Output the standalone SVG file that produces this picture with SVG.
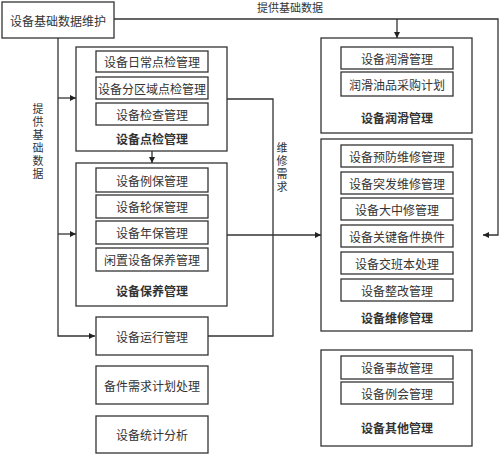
<svg xmlns="http://www.w3.org/2000/svg" width="500" height="455" viewBox="0 0 500 455">
<style>
.b{fill:#fff;stroke:#333;stroke-width:1.3}
.t{font-family:"Noto Sans CJK SC","Liberation Sans",sans-serif;font-size:12px;fill:#333;text-anchor:middle;dominant-baseline:central}
.l{font-weight:bold}
.c{fill:none;stroke:#333;stroke-width:1.3}
.v{font-family:"Noto Sans CJK SC","Liberation Sans",sans-serif;font-size:11px;fill:#333}
.vt{writing-mode:vertical-rl;letter-spacing:2px}
</style>
<defs>
<marker id="a" markerWidth="6" markerHeight="6" refX="6" refY="3" orient="auto" markerUnits="userSpaceOnUse">
<path d="M0,0 L6,3 L0,6 Z" fill="#222"/>
</marker>
</defs>
<g id="connectors">
<path class="c" d="M114,19 H498 V235 H483" marker-end="url(#a)"/>
<path class="c" d="M397,19 V38" marker-end="url(#a)"/>
<path class="c" d="M58,38 V336 H95" marker-end="url(#a)"/>
<path class="c" d="M58,98 H76" marker-end="url(#a)"/>
<path class="c" d="M58,234 H76" marker-end="url(#a)"/>
<path class="c" d="M152,151 V163" marker-end="url(#a)"/>
<path class="c" d="M227,99 H273 V336 H208"/>
<path class="c" d="M227,235 H321" marker-end="url(#a)"/>
<text class="v" x="290" y="12" text-anchor="middle">提供基础数据</text>
<text class="v vt" x="38" y="103">提供基础数据</text>
<text class="v vt" x="282" y="142">维修需求</text>
</g>
<g id="jichu"><rect class="b" x="2" y="2" width="112" height="36"/><text class="t" x="58" y="20">设备基础数据维护</text></g>
<g id="dianjian">
<rect class="b" x="76" y="47" width="151" height="104"/>
<rect class="b" x="96" y="51" width="112" height="21"/><text class="t" x="152" y="61.5">设备日常点检管理</text>
<rect class="b" x="96" y="77" width="112" height="22"/><text class="t" x="152" y="88">设备分区域点检管理</text>
<rect class="b" x="96" y="103" width="112" height="22"/><text class="t" x="152" y="114">设备检查管理</text>
<text class="t l" x="152" y="138">设备点检管理</text>
</g>
<g id="baoyang">
<rect class="b" x="76" y="163" width="151" height="143"/>
<rect class="b" x="96" y="168" width="112" height="24"/><text class="t" x="152" y="180">设备例保管理</text>
<rect class="b" x="96" y="195" width="112" height="23"/><text class="t" x="152" y="206.5">设备轮保管理</text>
<rect class="b" x="96" y="221" width="112" height="23"/><text class="t" x="152" y="232.5">设备年保管理</text>
<rect class="b" x="96" y="248" width="112" height="23"/><text class="t" x="152" y="259.5">闲置设备保养管理</text>
<text class="t l" x="152" y="290">设备保养管理</text>
</g>
<g id="yunxing"><rect class="b" x="96" y="317" width="112" height="38"/><text class="t" x="152" y="336">设备运行管理</text></g>
<g id="beijian"><rect class="b" x="96" y="366" width="112" height="38"/><text class="t" x="152" y="385">备件需求计划处理</text></g>
<g id="tongji"><rect class="b" x="96" y="416" width="112" height="37"/><text class="t" x="152" y="434.5">设备统计分析</text></g>
<g id="runhua">
<rect class="b" x="321" y="38" width="151" height="95"/>
<rect class="b" x="341" y="47" width="112" height="22"/><text class="t" x="397" y="58">设备润滑管理</text>
<rect class="b" x="341" y="72" width="112" height="24"/><text class="t" x="397" y="84">润滑油品采购计划</text>
<text class="t l" x="397" y="117">设备润滑管理</text>
</g>
<g id="weixiu">
<rect class="b" x="321" y="139" width="151" height="192"/>
<rect class="b" x="341" y="145" width="112" height="22"/><text class="t" x="397" y="156">设备预防维修管理</text>
<rect class="b" x="341" y="172" width="112" height="22"/><text class="t" x="397" y="183">设备突发维修管理</text>
<rect class="b" x="341" y="198" width="112" height="22"/><text class="t" x="397" y="209">设备大中修管理</text>
<rect class="b" x="341" y="225" width="112" height="22"/><text class="t" x="397" y="236">设备关键备件换件</text>
<rect class="b" x="341" y="252" width="112" height="22"/><text class="t" x="397" y="263">设备交班本处理</text>
<rect class="b" x="341" y="279" width="112" height="22"/><text class="t" x="397" y="290">设备整改管理</text>
<text class="t l" x="397" y="317">设备维修管理</text>
</g>
<g id="qita">
<rect class="b" x="321" y="350" width="151" height="96"/>
<rect class="b" x="341" y="356" width="112" height="23"/><text class="t" x="397" y="367.5">设备事故管理</text>
<rect class="b" x="341" y="382" width="112" height="22"/><text class="t" x="397" y="393">设备例会管理</text>
<text class="t l" x="397" y="427">设备其他管理</text>
</g>
</svg>
